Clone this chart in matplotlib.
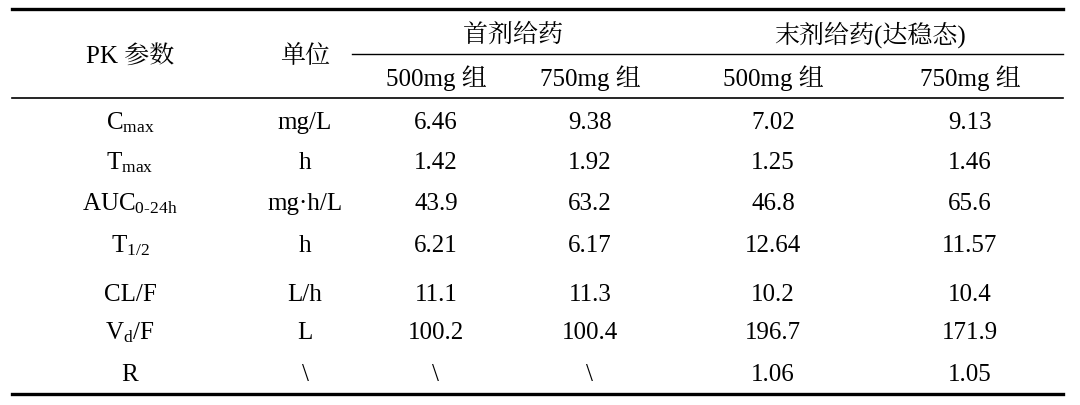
import matplotlib
matplotlib.use("Agg")
import matplotlib.pyplot as plt

plt.rcParams["font.family"] = ["Liberation Serif", "Noto Serif CJK SC", "Noto Sans CJK SC"]
plt.rcParams["mathtext.fontset"] = "custom"
plt.rcParams["mathtext.rm"] = "Liberation Serif"
plt.rcParams["mathtext.it"] = "Liberation Serif"

params = [r"C$_{\mathrm{max}}$", r"T$_{\mathrm{max}}$", r"AUC$_{\mathrm{0\text{-}24h}}$",
          r"T$_{\mathrm{1/2}}$", "CL/F", r"V$_{\mathrm{d}}$/F", "R"]
units = ["mg/L", "h", "mg·h/L", "h", "L/h", "L", "\\"]
first_500 = ["6.46", "1.42", "43.9", "6.21", "11.1", "100.2", "\\"]
first_750 = ["9.38", "1.92", "63.2", "6.17", "11.3", "100.4", "\\"]
last_500 = ["7.02", "1.25", "46.8", "12.64", "10.2", "196.7", "1.06"]
last_750 = ["9.13", "1.46", "65.6", "11.57", "10.4", "171.9", "1.05"]
group_labels = ["首剂给药", "末剂给药(达稳态)"]
sub_labels = ["500mg 组", "750mg 组", "500mg 组", "750mg 组"]

W, H = 1080, 406
fig = plt.figure(figsize=(W / 100, H / 100), dpi=100)
ax = fig.add_axes([0, 0, 1, 1])
ax.set_xlim(0, W)
ax.set_ylim(H, 0)
ax.axis("off")

x_cols = [130, 305, 436, 590, 773, 970]
fs = 18

# rules
ax.plot([12, 1063], [10, 10], color="black", lw=2.4)
ax.plot([352, 1063], [55, 55], color="black", lw=1.0)
ax.plot([12, 1063], [99, 99], color="black", lw=1.2)
ax.plot([12, 1063], [395, 395], color="black", lw=2.4)

ax.text(x_cols[0], 56, "PK 参数", ha="center", va="center", fontsize=fs)
ax.text(x_cols[1], 56, "单位", ha="center", va="center", fontsize=fs)
ax.text(513, 35, group_labels[0], ha="center", va="center", fontsize=fs)
ax.text(870, 35, group_labels[1], ha="center", va="center", fontsize=fs)
for x, s in zip(x_cols[2:], sub_labels):
    ax.text(x, 78, s, ha="center", va="center", fontsize=fs)

row_y = [123, 163, 204, 246, 295, 333, 375]
cols = [params, units, first_500, first_750, last_500, last_750]
for x, col in zip(x_cols, cols):
    for y, s in zip(row_y, col):
        ax.text(x, y, s, ha="center", va="center", fontsize=fs)

fig.savefig("out.png", dpi=100)
